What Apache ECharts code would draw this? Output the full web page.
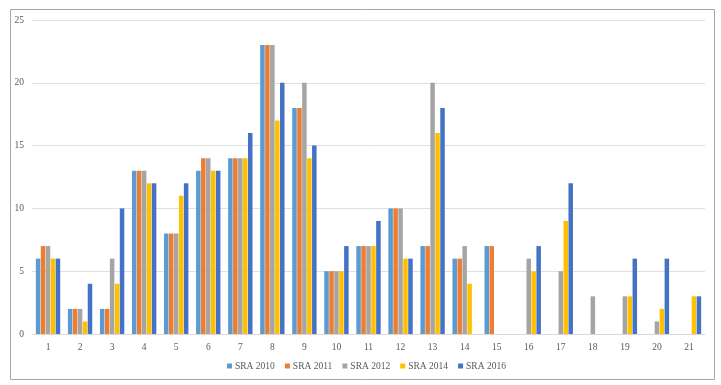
<!DOCTYPE html>
<html><head><meta charset="utf-8">
<script src="https://cdn.jsdelivr.net/npm/echarts@6/dist/echarts.min.js"></script>
<style>html,body{margin:0;padding:0;background:#fff}#c{width:721px;height:385px}</style>
</head><body><div id="c"></div>
<script>
var categories = ['1','2','3','4','5','6','7','8','9','10','11','12','13','14','15','16','17','18','19','20','21'];
var sra2010 = [6,2,2,13,8,13,14,23,18,5,7,10,7,6,7,null,null,null,null,null,null];
var sra2011 = [7,2,2,13,8,14,14,23,18,5,7,10,7,6,7,null,null,null,null,null,null];
var sra2012 = [7,2,6,13,8,14,14,23,20,5,7,10,20,7,null,6,5,3,3,1,null];
var sra2014 = [6,1,4,12,11,13,14,17,14,5,7,6,16,4,null,5,9,null,3,2,3];
var sra2016 = [6,4,10,12,12,13,16,20,15,7,9,6,18,null,null,7,12,null,6,6,3];
var yTicks = [0,5,10,15,20,25];
var seriesNames = ['SRA 2010','SRA 2011','SRA 2012','SRA 2014','SRA 2016'];
var colors = ['#5B9BD5','#ED7D31','#A5A5A5','#FFC000','#4472C4'];
var allData = [sra2010, sra2011, sra2012, sra2014, sra2016];

var chart = echarts.init(document.getElementById('c'), null, {renderer:'canvas'});
var font = '"Liberation Serif","Times New Roman",serif';
chart.setOption({
  animation:false,
  color: colors,
  textStyle:{fontFamily:font},
  graphic:[{type:'rect', shape:{x:10.5,y:9.5,width:704,height:370}, style:{fill:'none', stroke:'#a6a6a6', lineWidth:1}, z:-1}],
  grid:{left:32, right:16, top:20, bottom:51, containLabel:false},
  legend:{
    bottom:9, left:222, itemWidth:5, itemHeight:5, itemGap:10,
    icon:'rect',
    textStyle:{fontFamily:font, fontSize:9.5, color:'#595959', padding:[0,0,0,-2]},
    data: seriesNames
  },
  xAxis:{
    type:'category', data:categories,
    axisLine:{lineStyle:{color:'#d9d9d9'}},
    axisTick:{show:false},
    axisLabel:{color:'#595959', fontSize:9.5, fontFamily:font, margin:8}
  },
  yAxis:{
    type:'value', min:0, max:25, interval:5,
    axisLine:{show:false}, axisTick:{show:false},
    splitLine:{lineStyle:{color:'#e0e0e0'}},
    axisLabel:{color:'#595959', fontSize:9.5, fontFamily:font, margin:8,
      formatter:function(v){return yTicks.indexOf(v)>=0?String(v):'';}}
  },
  series: seriesNames.map(function(n,i){
    return {name:n, type:'bar', data:allData[i], barGap:'10%', barCategoryGap:'24%',
      itemStyle:{color:colors[i]}};
  })
});
</script></body></html>
